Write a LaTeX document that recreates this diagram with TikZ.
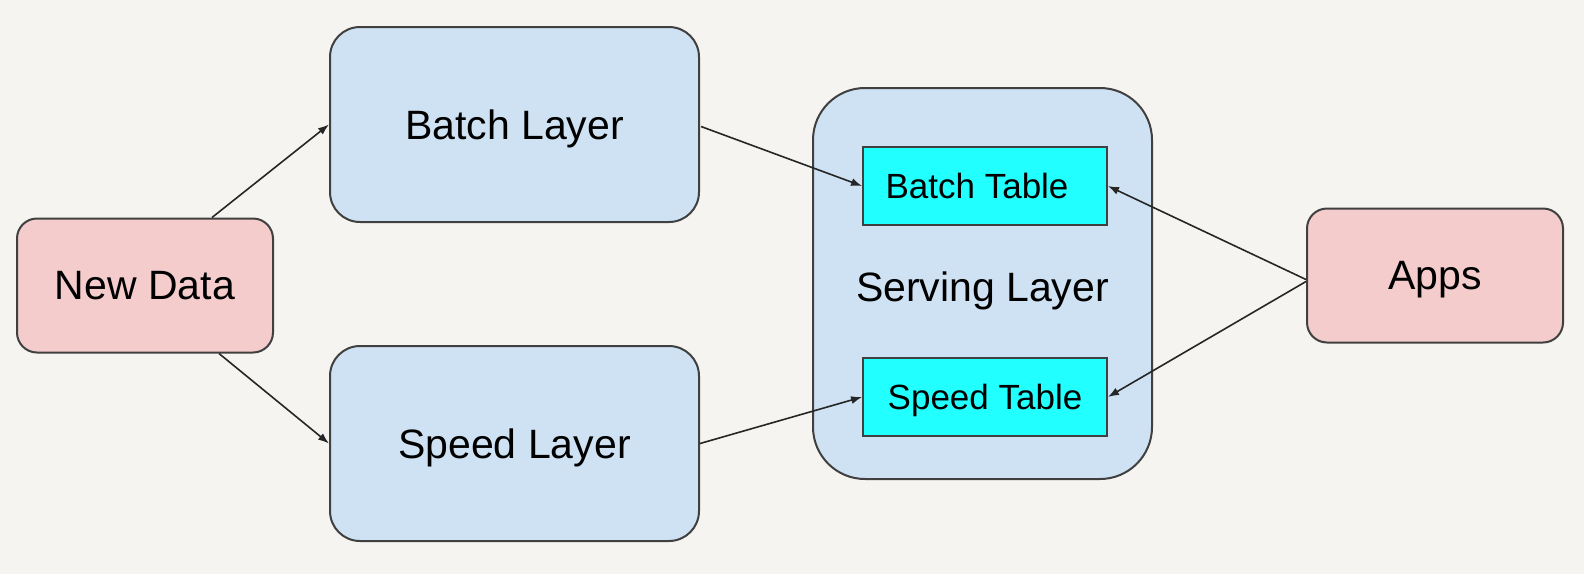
\documentclass[tikz,border=0pt]{standalone}
\usepackage{fontspec}
\setmainfont{Liberation Sans}
\usetikzlibrary{arrows.meta,calc,positioning}
\definecolor{pagebg}{HTML}{F5F4F0}
\definecolor{srcpink}{HTML}{F4CCCC}
\definecolor{layerblue}{HTML}{CFE2F3}
\definecolor{tablecyan}{HTML}{22FFFF}
\definecolor{edgegray}{HTML}{404040}

\begin{document}
\begin{tikzpicture}[
    x=0.5pt, y=-0.5pt,
    font=\fontsize{20.5}{24}\selectfont,
    box/.style={draw=edgegray, line width=1pt, align=center, text depth=0pt},
    source/.style={box, fill=srcpink, rounded corners=10pt,
      minimum width=128pt, minimum height=67pt},
    layer/.style={box, fill=layerblue, rounded corners=15pt,
      minimum width=184.5pt, minimum height=97.5pt},
    serving/.style={box, fill=layerblue, rounded corners=26pt,
      minimum width=169.5pt, minimum height=195.5pt},
    table/.style={box, fill=tablecyan, line width=0.9pt,
      minimum width=122pt, minimum height=39pt,
      font=\fontsize{17.5}{20}\selectfont},
    arrow/.style={-{Latex[length=5.5pt,width=4pt]}, line width=0.8pt, draw=black!85}
  ]
    \fill[pagebg] (0,0) rectangle (1584,574);
    \useasboundingbox (0,0) rectangle (1584,574);

    \node[source] (newdata) at (145,285.5) {New Data};
    \node[layer] (batchlayer) at (514.5,124.5) {Batch Layer};
    \node[layer] (speedlayer) at (514.5,443.5) {Speed Layer};

    \node[serving] (serving) at (982.5,283.5) {};
    \node[text depth=0pt] (servinglabel) at (982.5,287) {Serving Layer};
    \node[table] (batchtable) at (985,186) {Batch Table\hspace*{8pt}};
    \node[table] (speedtable) at (985,397) {Speed Table};

    \node[source] (apps) at (1435,275.5) {Apps};

    \draw[arrow] ($(newdata.north)+(67,0)$) -- (batchlayer.west);
    \draw[arrow] ($(newdata.south)+(74,0)$) -- (speedlayer.west);
    \draw[arrow] ($(batchlayer.east)+(1,2)$) -- (batchtable.west);
    \draw[arrow] (speedlayer.east) -- (speedtable.west);
    \draw[arrow] ($(apps.west)+(0,4)$) -- (batchtable.east);
    \draw[arrow] ($(apps.west)+(0,6)$) -- (speedtable.east);
  \end{tikzpicture}
\end{document}
